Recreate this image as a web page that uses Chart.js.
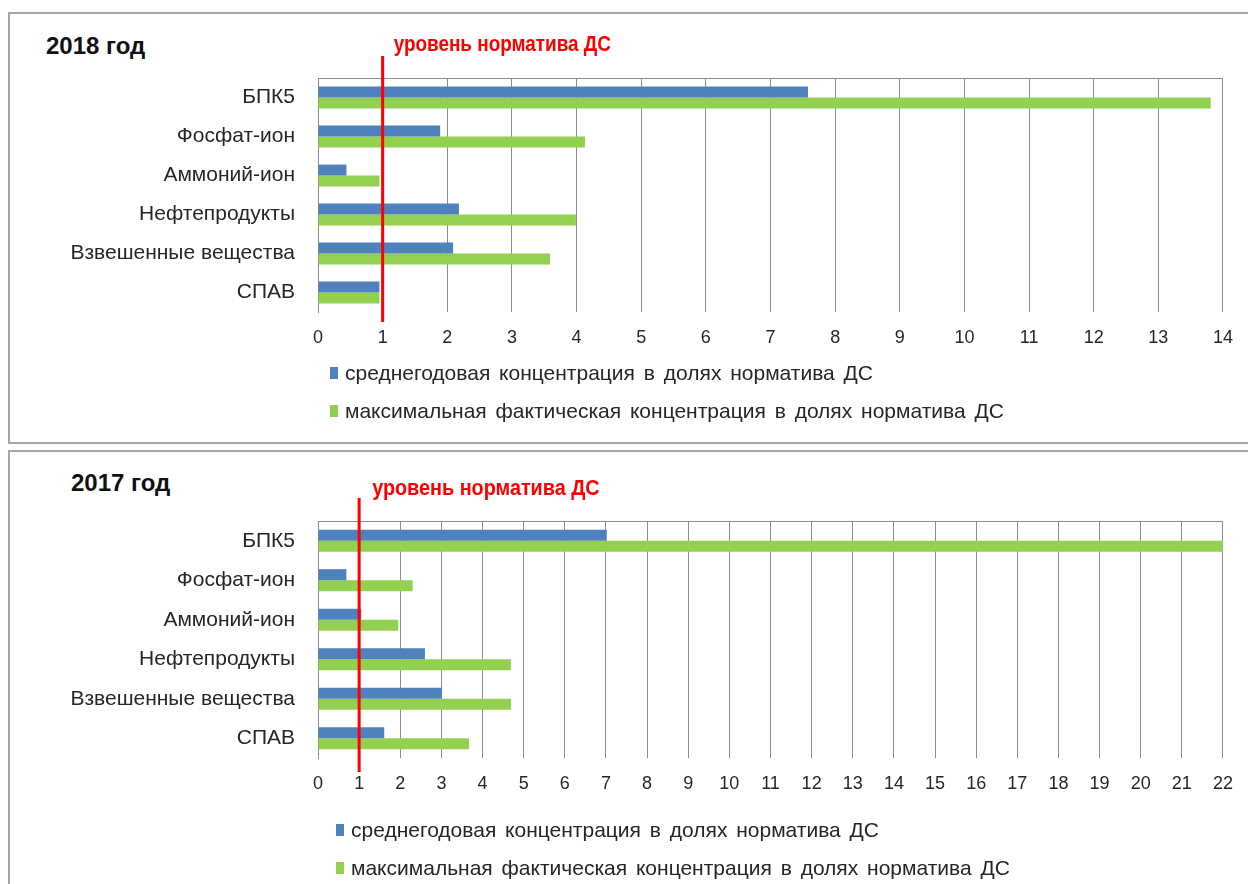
<!DOCTYPE html>
<html lang="ru">
<head>
<meta charset="utf-8">
<title>Концентрации в долях норматива ДС</title>
<script src="https://cdn.jsdelivr.net/npm/chart.js@4/dist/chart.umd.min.js"></script>
<style>
  html, body { margin: 0; padding: 0; background: #fff; width: 1248px; height: 884px; overflow: hidden; }
  body { position: relative; font-family: "Liberation Sans", Arial, sans-serif; color: #262626; }
  .panel { position: absolute; left: 8px; width: 1260px; border: 2px solid #a5a5a5; box-sizing: border-box; }
  #panel2018 { top: 12px; height: 432px; }
  #panel2017 { top: 450px; height: 460px; }
  .wrap { position: absolute; left: 0; width: 1248px; }
  #wrap2018 { top: 0; height: 442px; }
  #wrap2017 { top: 450px; height: 434px; }
  .year { position: absolute; font-weight: bold; font-size: 24px; color: #111; }
  .legend { position: absolute; font-size: 21px; word-spacing: 3px; color: #262626; }
  .legend .item { position: absolute; left: 0; white-space: nowrap; display: flex; align-items: center; height: 26px; }
  .legend .box { display: inline-block; width: 8px; height: 12px; margin-right: 7px; }
</style>
</head>
<body>
<div class="panel" id="panel2018"></div>
<div class="panel" id="panel2017"></div>

<div class="year" style="left:46px; top:32px;">2018 год</div>
<div class="year" style="left:71px; top:469px;">2017 год</div>

<div class="wrap" id="wrap2018"><canvas id="chart2018"></canvas></div>
<div class="wrap" id="wrap2017"><canvas id="chart2017"></canvas></div>

<div class="legend" id="legend2018" style="left:330px; top:360px;"></div>
<div class="legend" id="legend2017" style="left:336px; top:817px;"></div>

<script>
// показатели
const categories = ["БПК5", "Фосфат-ион", "Аммоний-ион", "Нефтепродукты", "Взвешенные вещества", "СПАВ"];
const seriesNames = [
  "среднегодовая концентрация в долях норматива ДС",
  "максимальная фактическая концентрация в долях норматива ДС"
];
const seriesColors = ["#4f81bd", "#92d050"];

// 2018 год
const avg2018 = [7.58, 1.89, 0.44, 2.18, 2.09, 0.95];
const max2018 = [13.81, 4.13, 0.95, 3.99, 3.59, 0.95];
const ticks2018 = [0, 1, 2, 3, 4, 5, 6, 7, 8, 9, 10, 11, 12, 13, 14];

// 2017 год
const avg2017 = [7.02, 0.69, 1.05, 2.6, 3.01, 1.61];
const max2017 = [22.0, 2.3, 1.95, 4.69, 4.69, 3.67];
const ticks2017 = [0, 1, 2, 3, 4, 5, 6, 7, 8, 9, 10, 11, 12, 13, 14, 15, 16, 17, 18, 19, 20, 21, 22];

// уровень норматива
const normLevel = 1;
const normLabel = "уровень норматива ДС";

const gridColor = "#8c8c8c";
const textColor = "#262626";

// красная линия норматива с подписью
const normLinePlugin = {
  id: "normLine",
  afterDatasetsDraw(chart, args, opts) {
    const { ctx, chartArea, scales } = chart;
    const x = scales.x.getPixelForValue(normLevel);
    ctx.save();
    // верхняя граница области построения
    ctx.strokeStyle = gridColor;
    ctx.lineWidth = 1;
    ctx.beginPath();
    ctx.moveTo(chartArea.left, chartArea.top + 0.5);
    ctx.lineTo(chartArea.right, chartArea.top + 0.5);
    ctx.stroke();

    ctx.strokeStyle = "#ff0000";
    ctx.lineWidth = 3;
    ctx.beginPath();
    ctx.moveTo(x, chartArea.top - opts.above);
    ctx.lineTo(x, chartArea.bottom + opts.below);
    ctx.stroke();

    // узкая подпись: сжимаем по горизонтали
    ctx.translate(x + opts.labelDx, chartArea.top - opts.labelDy);
    ctx.scale(opts.squeeze, 1);
    ctx.fillStyle = "#ff0000";
    ctx.font = "bold 22px 'Liberation Sans', sans-serif";
    ctx.textBaseline = "middle";
    ctx.textAlign = "left";
    ctx.fillText(normLabel, 0, 0);
    ctx.restore();
  }
};

function makeChart(id, avg, max, tickValues, pad, line) {
  const xMax = tickValues[tickValues.length - 1];
  return new Chart(document.getElementById(id), {
    type: "bar",
    data: {
      labels: categories,
      datasets: [
        { label: seriesNames[0], data: avg, backgroundColor: seriesColors[0] },
        { label: seriesNames[1], data: max, backgroundColor: seriesColors[1] }
      ]
    },
    options: {
      indexAxis: "y",
      responsive: true,
      maintainAspectRatio: false,
      animation: false,
      barPercentage: 1,
      categoryPercentage: 0.56,
      layout: { padding: pad },
      plugins: {
        legend: { display: false },
        tooltip: { enabled: false },
        normLine: line
      },
      scales: {
        x: {
          min: 0,
          max: xMax,
          afterBuildTicks: (axis) => { axis.ticks = tickValues.map(v => ({ value: v })); },
          afterFit: (axis) => { axis.height = 40; },
          grid: { color: gridColor, lineWidth: 1, drawTicks: false },
          border: { display: false },
          ticks: {
            color: textColor,
            padding: 15,
            maxRotation: 0,
            autoSkip: false,
            font: { family: "'Liberation Sans', Arial, sans-serif", size: 18 }
          }
        },
        y: {
          afterFit: (axis) => { axis.width = 318; },
          grid: { display: false, drawTicks: false },
          border: { display: true, color: gridColor, width: 1 },
          ticks: {
            color: textColor,
            padding: 23,
            font: { family: "'Liberation Sans', Arial, sans-serif", size: 21 }
          }
        }
      }
    },
    plugins: [normLinePlugin]
  });
}

makeChart("chart2018", avg2018, max2018, ticks2018,
  { top: 78, right: 20, bottom: 90, left: 0 },
  { above: 22, below: 10, labelDx: 11, labelDy: 33, squeeze: 0.86 });

makeChart("chart2017", avg2017, max2017, ticks2017,
  { top: 71, right: 21, bottom: 86, left: 0 },
  { above: 23, below: 14, labelDx: 13, labelDy: 32, squeeze: 0.9 });

// легенда
function buildLegend(id) {
  const el = document.getElementById(id);
  seriesNames.forEach((name, i) => {
    const item = document.createElement("div");
    item.className = "item";
    item.style.top = (i * 38) + "px";
    item.innerHTML = `<span class="box" style="background:${seriesColors[i]}"></span>${name}`;
    el.appendChild(item);
  });
}
buildLegend("legend2018");
buildLegend("legend2017");
</script>
</body>
</html>
